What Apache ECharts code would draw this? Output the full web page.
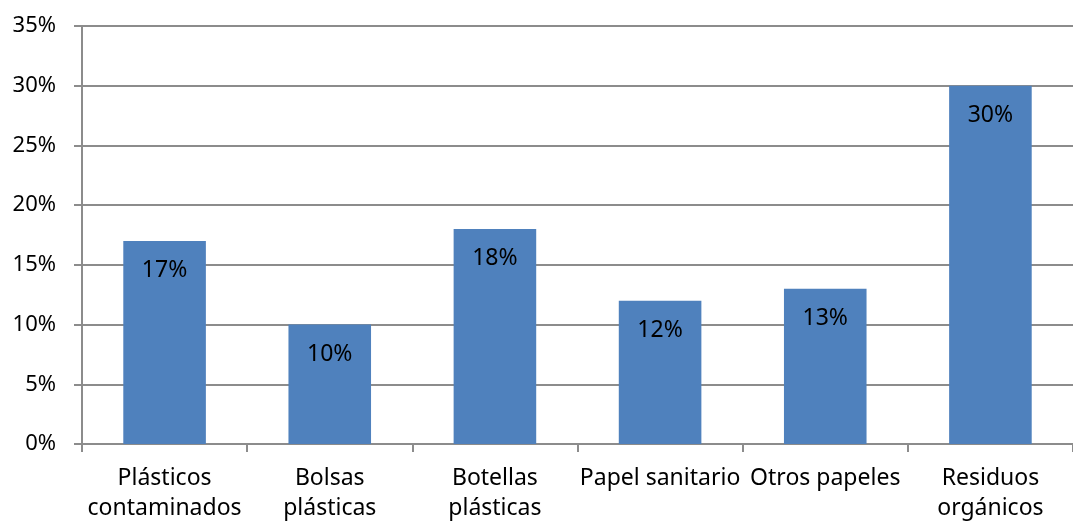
<!DOCTYPE html>
<html>
<head>
<meta charset="utf-8">
<script src="https://cdn.jsdelivr.net/npm/echarts@6/dist/echarts.min.js"></script>
<style>html,body{margin:0;padding:0;background:#fff}#c{width:1073px;height:523px}</style>
</head>
<body>
<div id="c"></div>
<script>
const categories = ['Plásticos\ncontaminados', 'Bolsas\nplásticas', 'Botellas\nplásticas', 'Papel sanitario', 'Otros papeles', 'Residuos\norgánicos'];
const values = [17, 10, 18, 12, 13, 30];
const yTicks = [0, 5, 10, 15, 20, 25, 30, 35];

const chart = echarts.init(document.getElementById('c'), null, {renderer: 'canvas'});
const font = '"Noto Sans", sans-serif';
chart.setOption({
  animation: false,
  grid: {left: 82, top: 26, width: 999, height: 419, containLabel: false},
  xAxis: {
    type: 'category',
    data: categories,
    axisLine: {show: true, lineStyle: {color: '#8c8c8c', width: 2}},
    axisTick: {show: true, alignWithLabel: false, length: 8, lineStyle: {color: '#8c8c8c', width: 2}},
    axisLabel: {color: '#000', fontFamily: font, fontSize: 23, lineHeight: 30, margin: 19, interval: 0}
  },
  yAxis: {
    type: 'value',
    min: yTicks[0],
    max: yTicks[yTicks.length - 1],
    interval: 5,
    axisLine: {show: true, lineStyle: {color: '#8c8c8c', width: 2}},
    axisTick: {show: true, length: 8, inside: false, lineStyle: {color: '#8c8c8c', width: 2}},
    splitLine: {show: true, lineStyle: {color: '#8c8c8c', width: 2}},
    axisLabel: {color: '#000', fontFamily: font, fontSize: 22, margin: 26, formatter: v => v + '%'}
  },
  series: [{
    type: 'bar',
    data: values,
    barCategoryGap: '50%',
    itemStyle: {color: '#4F81BD'},
    label: {
      show: true, position: 'insideTop', distance: 18,
      color: '#000', fontFamily: font, fontSize: 23,
      formatter: p => p.value + '%'
    }
  }]
});
</script>
</body>
</html>
